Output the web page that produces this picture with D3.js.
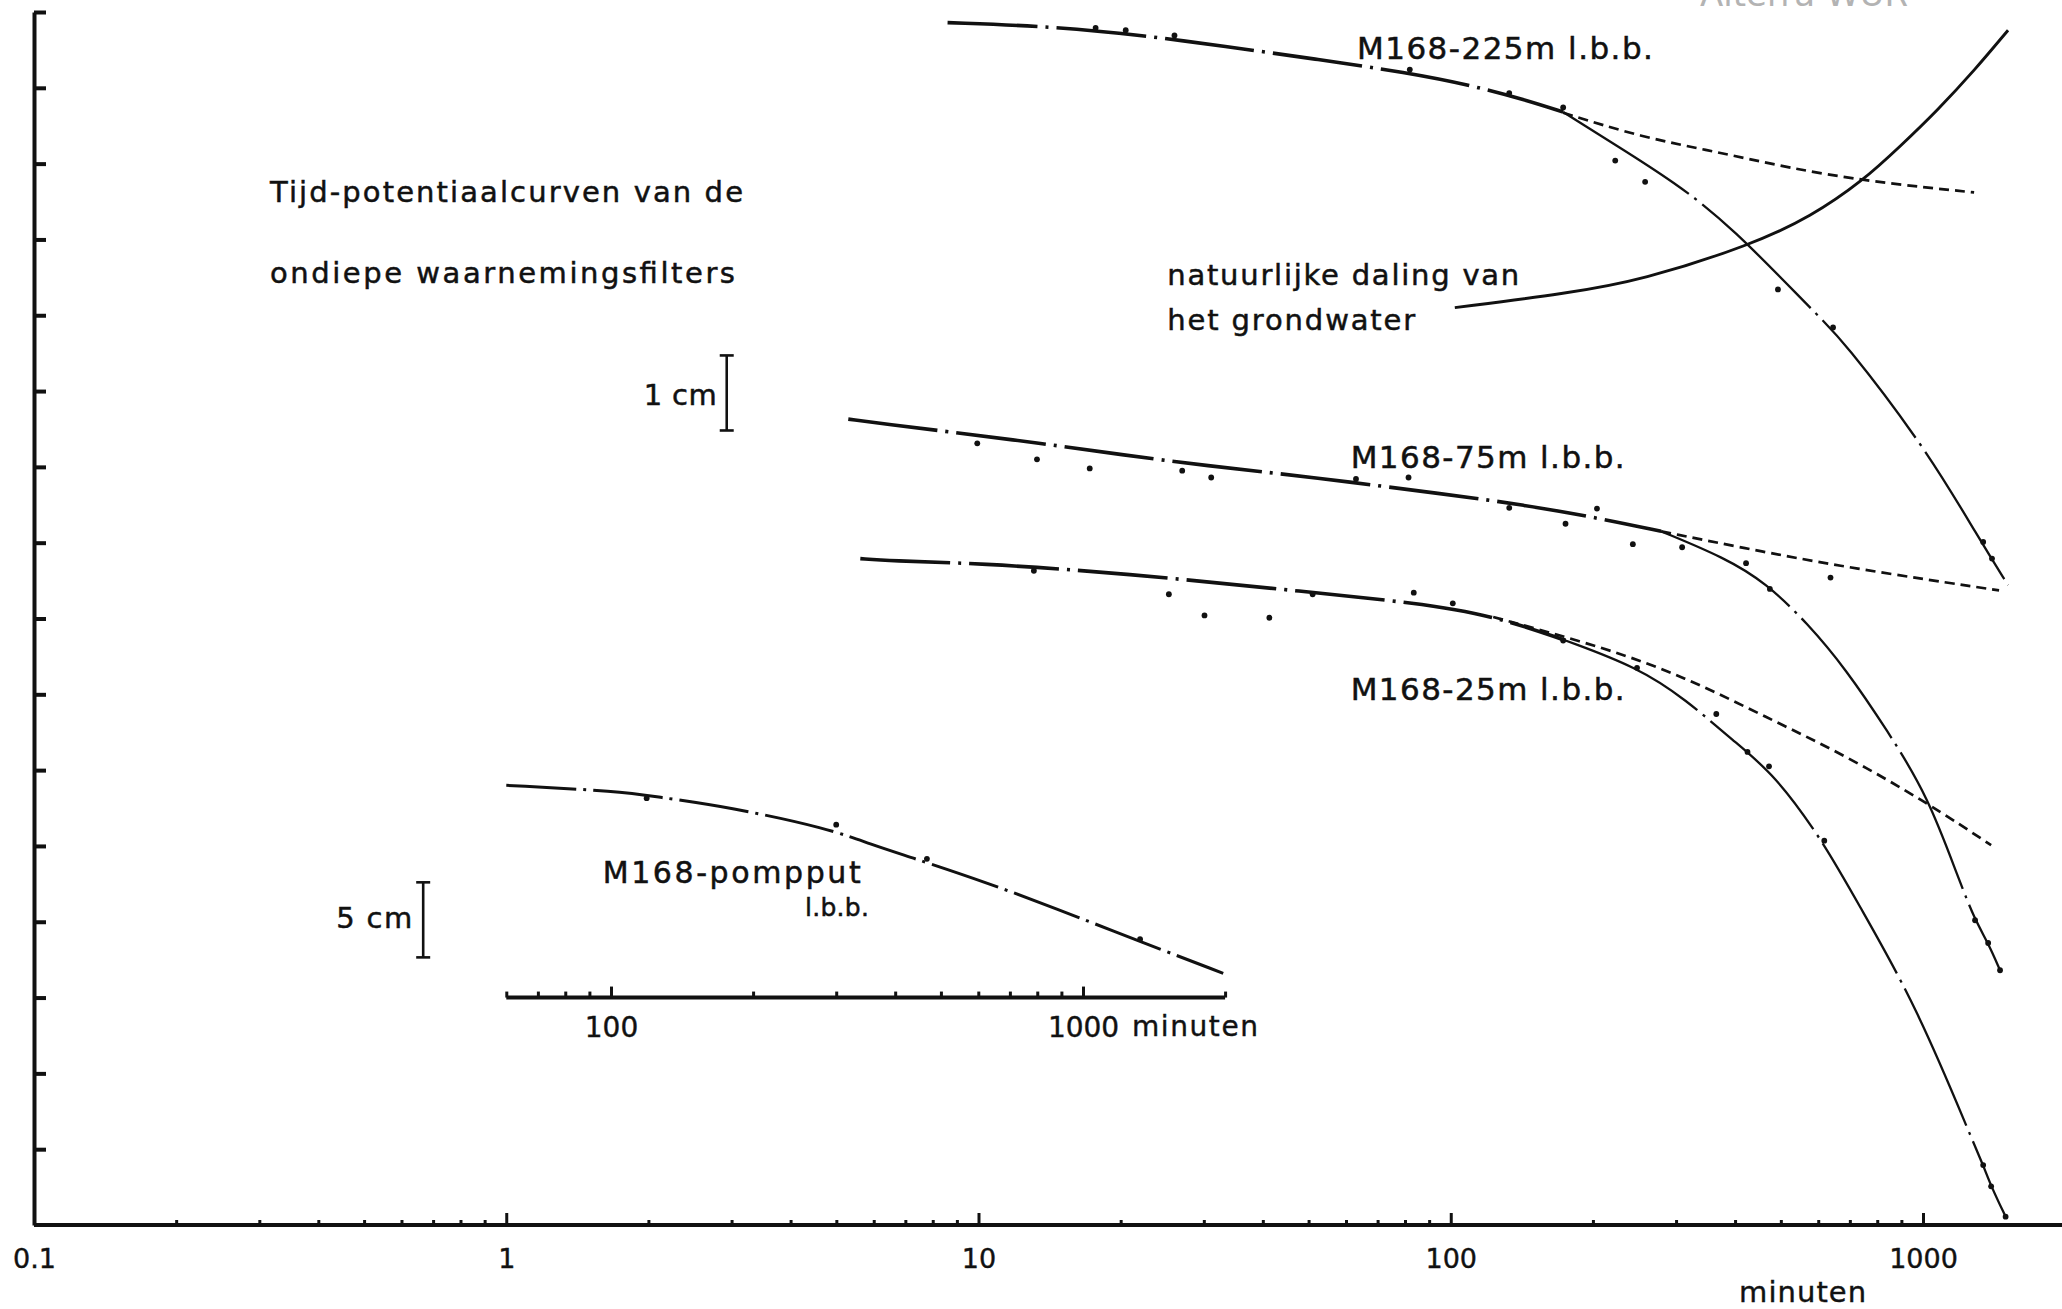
<!DOCTYPE html>
<html>
<head>
<meta charset="utf-8">
<script src="https://cdn.jsdelivr.net/npm/d3@7"></script>
<style>
body { margin: 0; background: #fff; }
svg text { font-family: "DejaVu Sans", sans-serif; fill: #111; }
</style>
</head>
<body>
<svg id="chart" width="2062" height="1309"></svg>
<script>
// values: [minutes, drawdown position in cm-ticks from top]
var m225Line  = [[8.6,0.14],[14.3,0.19],[22.4,0.31],[33,0.45],[51.6,0.62],[81,0.80],[111,0.97],[144,1.16],[173,1.32]];
var m225Steep = [[173,1.32],[223,1.75],[297,2.24],[392,2.82],[601,4.02],[671,4.30],[1018,5.77],[1315,6.95],[1514,7.56]];
var m225Dash  = [[173,1.33],[253,1.65],[363,1.84],[522,2.06],[777,2.24],[1283,2.38]];
var m225Dots  = [[17.7,0.21],[20.5,0.24],[26,0.31],[81.9,0.76],[133,1.07],[173,1.26],[223,1.96],[258,2.24],[493,3.66],[645,4.16],[1341,6.99],[1400,7.21]];

var m75Line  = [[5.3,5.37],[6.47,5.44],[8.46,5.53],[13.6,5.69],[20.1,5.84],[29.9,5.98],[51.6,6.14],[96.8,6.36],[143,6.50],[211,6.69],[279,6.85]];
var m75Steep = [[279,6.85],[381,7.20],[465,7.53],[569,8.06],[687,8.67],[839,9.47],[1026,10.35],[1192,11.45],[1289,11.98],[1374,12.28],[1456,12.64]];
var m75Dash  = [[279,6.85],[465,7.13],[687,7.32],[1026,7.49],[1449,7.63]];
var m75Dots  = [[9.94,5.69],[13.3,5.90],[17.2,6.02],[27,6.05],[31.1,6.14],[63,6.16],[81.4,6.14],[133,6.54],[175,6.75],[204,6.55],[243,7.02],[309,7.06],[422,7.27],[474,7.61],[637,7.46],[1289,11.98],[1374,12.28],[1456,12.64]];

var m25Line  = [[5.62,7.21],[6.47,7.24],[9.94,7.27],[20.1,7.40],[51.6,7.66],[83,7.79],[123,7.96],[175,8.29]];
var m25Steep = [[175,8.29],[248,8.64],[315,9.07],[396,9.61],[484,10.05],[613,10.93],[729,11.76],[972,13.13],[1289,14.97],[1341,15.21],[1394,15.49],[1496,15.89]];
var m25Dash  = [[123,7.98],[211,8.38],[313,8.77],[465,9.30],[687,9.81],[1026,10.44],[1394,10.99]];
var m25Dots  = [[13.1,7.37],[25.3,7.68],[30.1,7.96],[41.3,7.99],[51,7.68],[83.5,7.66],[101,7.80],[173,8.29],[248,8.65],[365,9.26],[425,9.76],[472,9.95],[618,10.93],[1341,15.21],[1394,15.49],[1496,15.89]];

// natural decline of the groundwater
var natural = [[102,3.90],[177,3.71],[253,3.54],[434,3.07],[579,2.70],[748,2.22],[895,1.77],[1072,1.30],[1289,0.76],[1514,0.24]];

// pumping well, on its own inset time axis (minutes)
var pompLine = [[60,10.20],[105,10.28],[124,10.35],[179,10.49],[289,10.77],[355,10.98],[432,11.15],[623,11.48],[863,11.81],[1346,12.28],[1982,12.68]];
var pompDots = [[119,10.37],[300,10.72],[467,11.17],[1321,12.23]];

var mainTicks  = [0.1, 1, 10, 100, 1000];
var insetTicks = [100, 1000];
var yTicks = d3.range(0, 16);

var svg = d3.select("#chart"),
    width = +svg.attr("width"),
    height = +svg.attr("height");

var x = d3.scaleLog().domain([0.1, 1000]).range([34, 1923]);
var y = d3.scaleLinear().domain([0, 16]).range([12, 1225]);
var xInset = d3.scaleLog().domain([100, 1000]).range([611, 1083]);

// ---- main axes
var xMinor = [];
mainTicks.forEach(function(d) {
  for (var k = 2; k < 10; k++) if (d * k < 1950) xMinor.push(d * k);
});

svg.append("line")
  .attr("x1", x(0.1)).attr("x2", width)
  .attr("y1", y(16)).attr("y2", y(16))
  .attr("stroke", "#111").attr("stroke-width", 4);

svg.append("g")
  .attr("transform", "translate(0," + y(16) + ")")
  .call(d3.axisBottom(x).tickValues(xMinor).tickSize(-5).tickFormat(""))
  .call(function(g) { g.select(".domain").remove(); g.selectAll("line").attr("stroke", "#111").attr("stroke-width", 3); });

svg.append("g")
  .attr("transform", "translate(0," + y(16) + ")")
  .call(d3.axisBottom(x).tickValues(mainTicks).tickSize(-12).tickPadding(24).tickFormat(d3.format("~g")))
  .call(function(g) {
    g.select(".domain").remove();
    g.selectAll("line").attr("stroke", "#111").attr("stroke-width", 3);
    g.selectAll("text").attr("font-size", 27).attr("fill", "#111")
      .attr("stroke", "#111").attr("stroke-width", 0.4);
  });

svg.append("text")
  .attr("x", x(556)).attr("y", y(17.02))
  .attr("text-anchor", "middle")
  .attr("font-size", 29)
  .attr("stroke", "#111").attr("stroke-width", 0.4)
  .attr("textLength", 127).attr("lengthAdjust", "spacing")
  .text("minuten");

svg.append("g")
  .attr("transform", "translate(" + x(0.1) + ",0)")
  .call(d3.axisRight(y).tickValues(yTicks).tickSize(12).tickSizeOuter(0).tickFormat(""))
  .call(function(g) {
    g.select(".domain").attr("stroke", "#111").attr("stroke-width", 4);
    g.selectAll("line").attr("stroke", "#111").attr("stroke-width", 4);
  });

// ---- inset axis for the pumping well
var insetMinor = [60, 70, 80, 90, 200, 300, 400, 500, 600, 700, 800, 900, 2000];

svg.append("line")
  .attr("x1", xInset(60)).attr("x2", xInset(2000))
  .attr("y1", y(13)).attr("y2", y(13))
  .attr("stroke", "#111").attr("stroke-width", 4);

svg.append("g")
  .attr("transform", "translate(0," + y(13) + ")")
  .call(d3.axisBottom(xInset).tickValues(insetMinor).tickSize(-6).tickFormat(""))
  .call(function(g) { g.select(".domain").remove(); g.selectAll("line").attr("stroke", "#111").attr("stroke-width", 3); });

svg.append("g")
  .attr("transform", "translate(0," + y(13) + ")")
  .call(d3.axisBottom(xInset).tickValues(insetTicks).tickSize(-11).tickPadding(20).tickFormat(d3.format("d")))
  .call(function(g) {
    g.select(".domain").remove();
    g.selectAll("line").attr("stroke", "#111").attr("stroke-width", 3);
    g.selectAll("text").attr("font-size", 28).attr("fill", "#111")
      .attr("stroke", "#111").attr("stroke-width", 0.4);
  });

svg.append("text")
  .attr("x", xInset(1270)).attr("y", y(13.51))
  .attr("font-size", 28)
  .attr("stroke", "#111").attr("stroke-width", 0.4)
  .attr("textLength", 126).attr("lengthAdjust", "spacing")
  .text("minuten");

// ---- curves
var line = d3.line()
  .x(function(d) { return x(d[0]); })
  .y(function(d) { return y(d[1]); })
  .curve(d3.curveBasis);

var lineInset = d3.line()
  .x(function(d) { return xInset(d[0]); })
  .y(function(d) { return y(d[1]); })
  .curve(d3.curveBasis);

var curves = [
  { data: m225Line,  w: 3.6, dash: "90 8 3 8" },
  { data: m225Steep, w: 2.3, dash: "150 7 3 7" },
  { data: m225Dash,  w: 2.7, dash: "10 6" },
  { data: m75Line,   w: 3.6, dash: "90 8 3 8" },
  { data: m75Steep,  w: 2.3, dash: "150 7 3 7" },
  { data: m75Dash,   w: 2.7, dash: "10 6" },
  { data: m25Line,   w: 3.6, dash: "90 8 3 8" },
  { data: m25Steep,  w: 2.3, dash: "150 7 3 7" },
  { data: m25Dash,   w: 2.7, dash: "10 6" },
  { data: natural,   w: 2.9, dash: null }
];

svg.append("g").selectAll("path")
  .data(curves)
  .enter().append("path")
  .attr("d", function(d) { return line(d.data); })
  .attr("fill", "none")
  .attr("stroke", "#111")
  .attr("stroke-width", function(d) { return d.w; })
  .attr("stroke-dasharray", function(d) { return d.dash; });

svg.append("path")
  .attr("d", lineInset(pompLine))
  .attr("fill", "none")
  .attr("stroke", "#111")
  .attr("stroke-width", 3)
  .attr("stroke-dasharray", "70 7 3 7");

// observed points
var dots = m225Dots.concat(m75Dots, m25Dots);
svg.append("g").selectAll("circle")
  .data(dots)
  .enter().append("circle")
  .attr("cx", function(d) { return x(d[0]); })
  .attr("cy", function(d) { return y(d[1]); })
  .attr("r", 2.9)
  .attr("fill", "#111");

svg.append("g").selectAll("circle")
  .data(pompDots)
  .enter().append("circle")
  .attr("cx", function(d) { return xInset(d[0]); })
  .attr("cy", function(d) { return y(d[1]); })
  .attr("r", 2.9)
  .attr("fill", "#111");

// ---- scale bars (1 cm for the filters, 5 cm for the well)
var bars = [{ t: 2.93, v0: 4.53, v1: 5.52 }, { t: 0.667, v0: 11.48, v1: 12.47 }];
bars.forEach(function(b) {
  var bx = x(b.t);
  var g = svg.append("g").attr("stroke", "#111").attr("stroke-width", 2.6);
  g.append("line").attr("x1", bx).attr("x2", bx).attr("y1", y(b.v0)).attr("y2", y(b.v1));
  g.append("line").attr("x1", bx - 7).attr("x2", bx + 7).attr("y1", y(b.v0)).attr("y2", y(b.v0));
  g.append("line").attr("x1", bx - 7).attr("x2", bx + 7).attr("y1", y(b.v1)).attr("y2", y(b.v1));
});

// ---- lettering
var notes = [
  { text: "Tijd-potentiaalcurven van de", t: 0.316, v: 2.51, size: 29, len: 473 },
  { text: "ondiepe waarnemingsfilters",   t: 0.316, v: 3.57, size: 29, len: 465 },
  { text: "1 cm",                 t: 2.79, v: 5.18, size: 29, len: 73, anchor: "end" },
  { text: "M168-225m l.b.b.",     t: 63.3, v: 0.62, size: 31, len: 296 },
  { text: "natuurlijke daling van", t: 25.1, v: 3.60, size: 29, len: 352 },
  { text: "het grondwater",       t: 25.1, v: 4.19, size: 29, len: 248 },
  { text: "M168-75m l.b.b.",      t: 61.4, v: 6.02, size: 31, len: 274 },
  { text: "M168-25m l.b.b.",      t: 61.4, v: 9.08, size: 31, len: 274 },
  { text: "M168-pompput",         t: 1.60, v: 11.49, size: 30, len: 258 },
  { text: "l.b.b.",               t: 4.29, v: 11.93, size: 25, len: 64 },
  { text: "5 cm",                 t: 0.632, v: 12.08, size: 29, len: 76, anchor: "end" }
];

svg.append("g").selectAll("text")
  .data(notes)
  .enter().append("text")
  .attr("x", function(d) { return x(d.t); })
  .attr("y", function(d) { return y(d.v); })
  .attr("font-size", function(d) { return d.size; })
  .attr("stroke", "#111").attr("stroke-width", 0.5)
  .attr("text-anchor", function(d) { return d.anchor || "start"; })
  .attr("textLength", function(d) { return d.len; })
  .attr("lengthAdjust", "spacing")
  .text(function(d) { return d.text; });

// faint archive stamp, cut off by the top edge as in the scan
svg.append("text")
  .attr("x", 1700).attr("y", 6)
  .attr("font-family", "Liberation Sans, Arial, sans-serif")
  .attr("font-size", 34)
  .style("fill", "#b3b3b3")
  .text("Alterra WUR");
</script>
</body>
</html>
